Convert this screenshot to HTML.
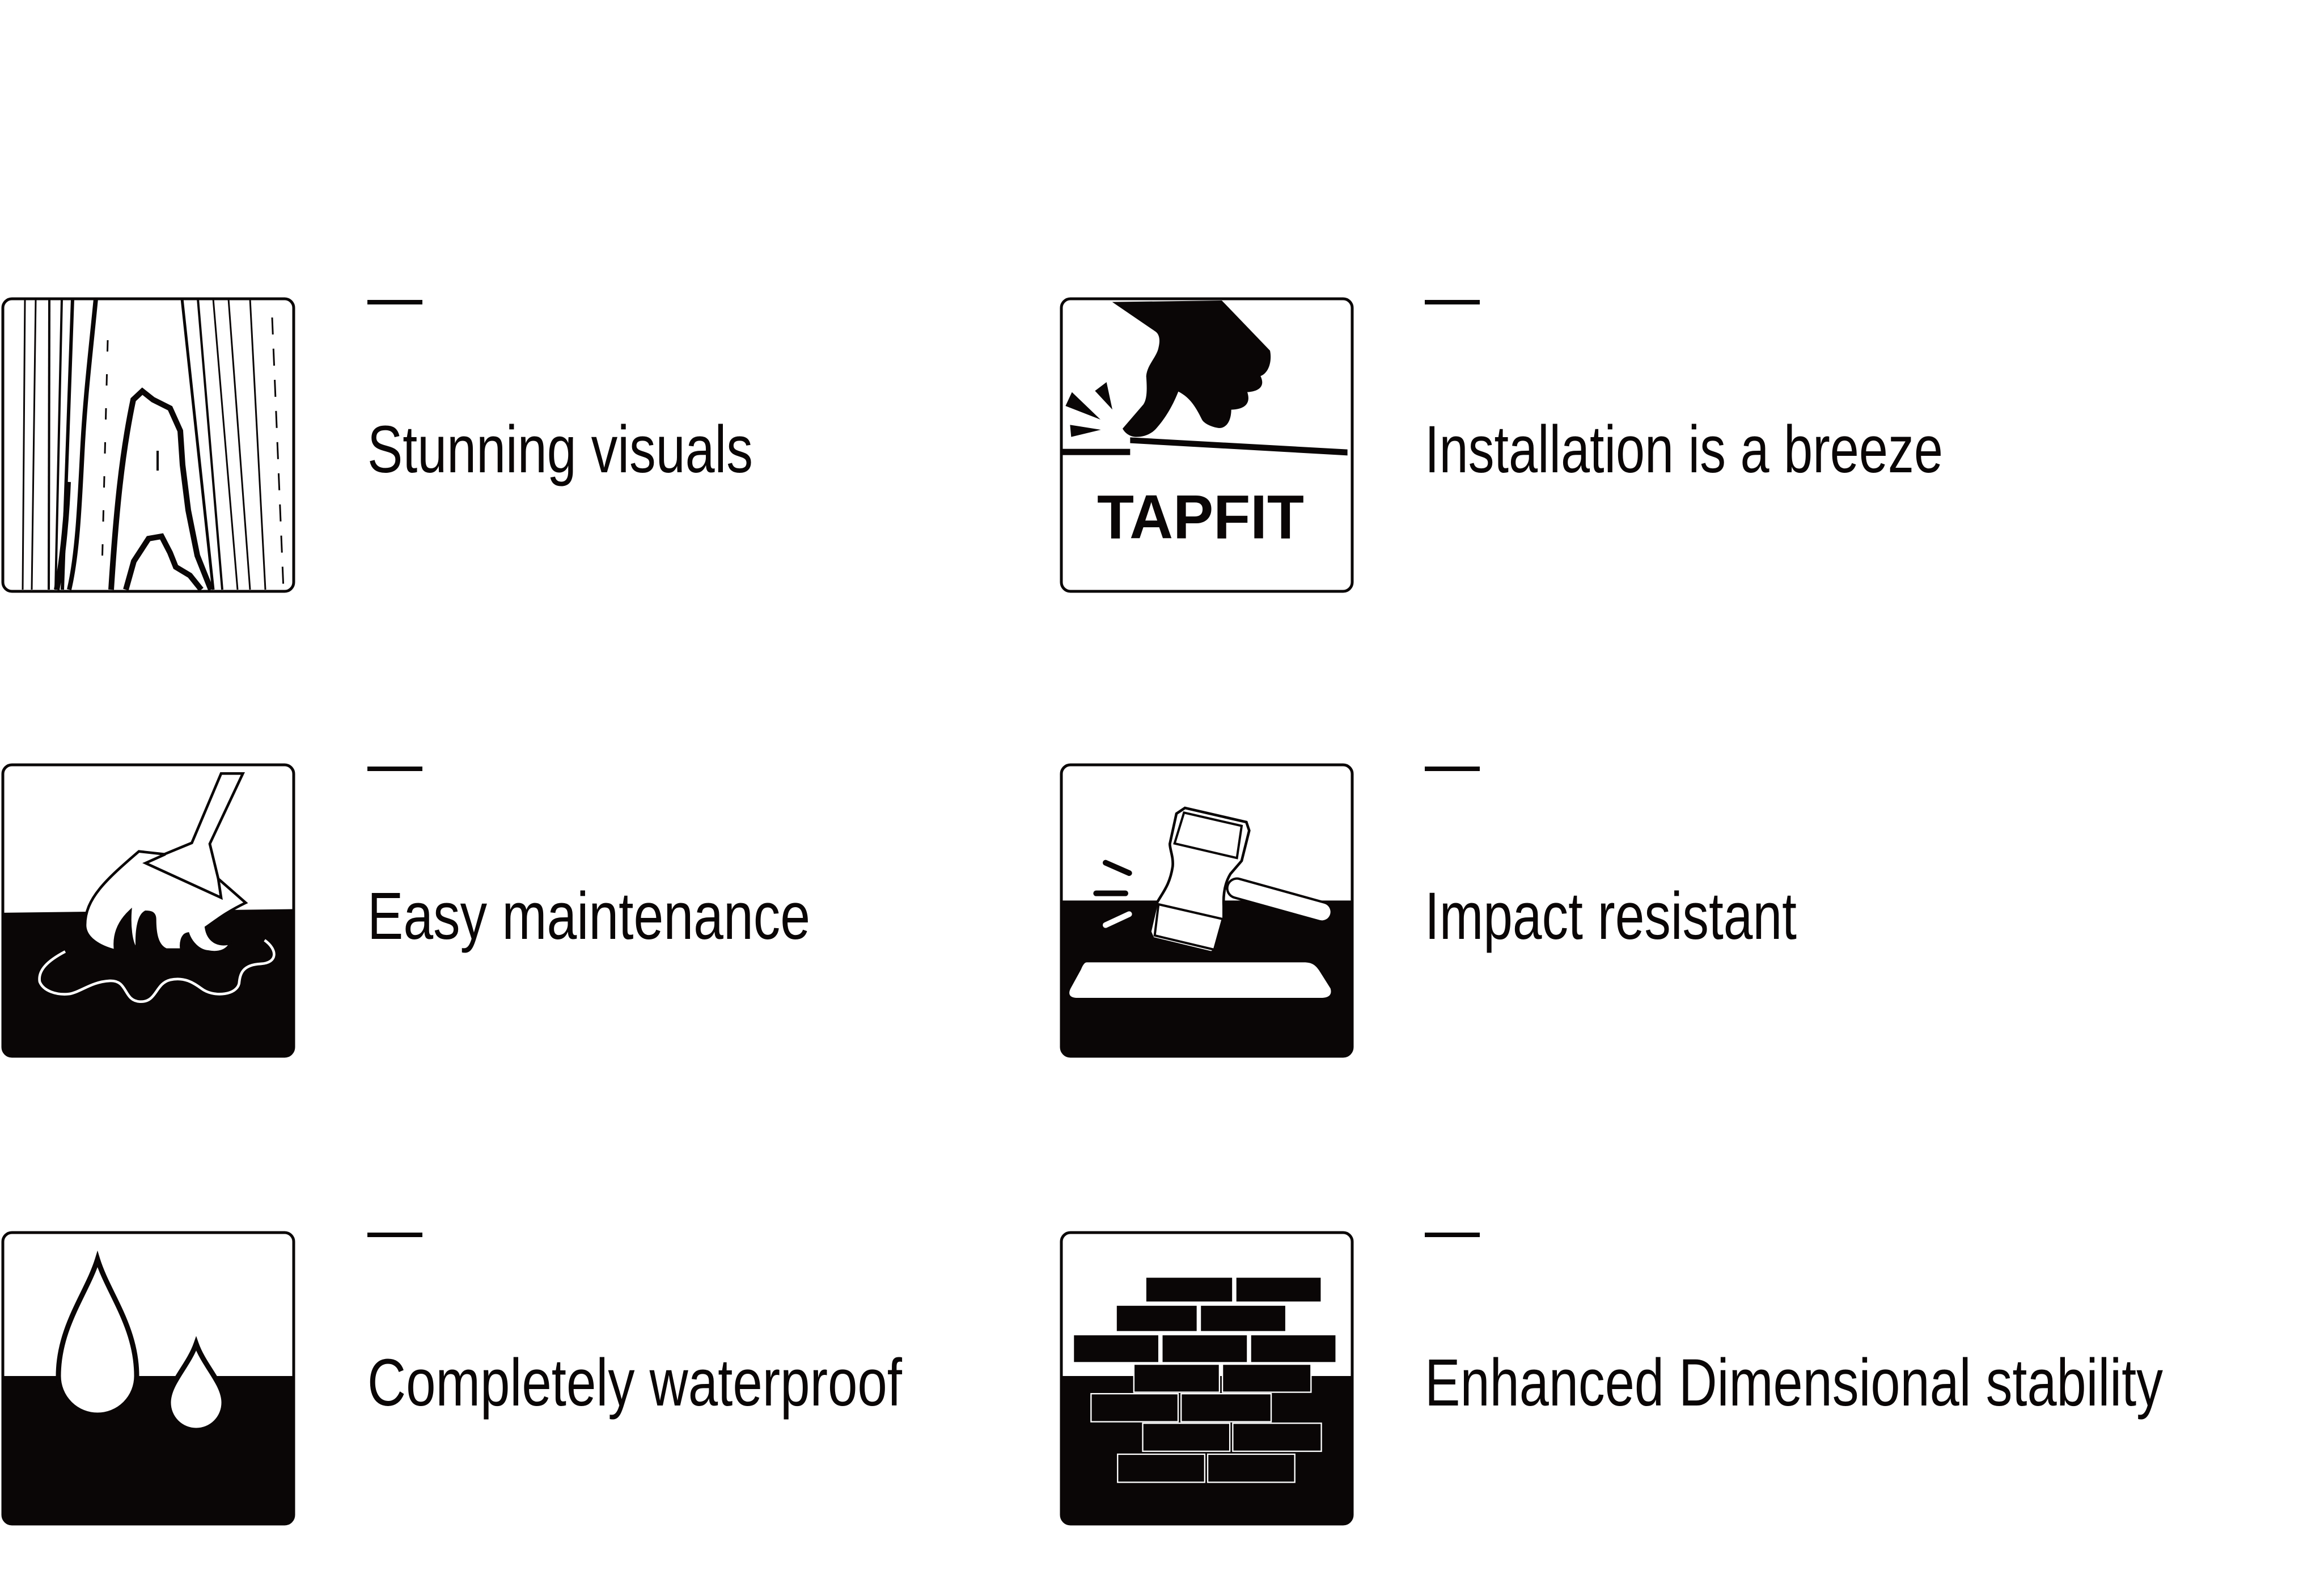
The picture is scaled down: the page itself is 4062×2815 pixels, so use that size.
<!DOCTYPE html>
<html><head><meta charset="utf-8"><style>
html,body{margin:0;padding:0;background:#fff;}
svg{display:block;}
text{font-family:"Liberation Sans",sans-serif;fill:#0a0606;}
</style></head><body>
<svg width="4062" height="2815" viewBox="0 0 4062 2815" xmlns="http://www.w3.org/2000/svg">
<defs>
<clipPath id="c1"><rect x="5" y="527" width="513" height="516" rx="16"/></clipPath>
<clipPath id="c3"><rect x="5" y="1349" width="513" height="514" rx="16"/></clipPath>
<clipPath id="c4"><rect x="1872" y="1349" width="513" height="514" rx="16"/></clipPath>
<clipPath id="c5"><rect x="5" y="2174" width="513" height="514" rx="16"/></clipPath>
<clipPath id="c6"><rect x="1872" y="2174" width="513" height="514" rx="16"/></clipPath>
</defs>
<rect width="4062" height="2815" fill="#fff"/>

<g fill="#0a0606">
<rect x="648" y="529" width="97" height="8"/>
<rect x="2513" y="529" width="97" height="8"/>
<rect x="648" y="1352" width="97" height="8"/>
<rect x="2513" y="1352" width="97" height="8"/>
<rect x="648" y="2174" width="97" height="8"/>
<rect x="2513" y="2174" width="97" height="8"/>
</g>

<text x="648" y="833" font-size="118" textLength="680" lengthAdjust="spacingAndGlyphs">Stunning visuals</text>
<text x="2513" y="833" font-size="118" textLength="914" lengthAdjust="spacingAndGlyphs">Installation is a breeze</text>
<text x="648" y="1656" font-size="118" textLength="781" lengthAdjust="spacingAndGlyphs">Easy maintenance</text>
<text x="2513" y="1656" font-size="118" textLength="656" lengthAdjust="spacingAndGlyphs">Impact resistant</text>
<text x="648" y="2479" font-size="118" textLength="943" lengthAdjust="spacingAndGlyphs">Completely waterproof</text>
<text x="2513" y="2479" font-size="118" textLength="1302" lengthAdjust="spacingAndGlyphs">Enhanced Dimensional stability</text>

<g clip-path="url(#c1)" stroke="#0a0606" fill="none">
<line x1="44" y1="527" x2="40" y2="1040" stroke-width="3"/>
<line x1="63" y1="527" x2="56" y2="1040" stroke-width="3"/>
<line x1="87" y1="527" x2="86" y2="1040" stroke-width="4"/>
<line x1="109" y1="527" x2="98" y2="1040" stroke-width="4"/>
<line x1="128" y1="527" x2="110" y2="1040" stroke-width="6"/>
<path d="M169 527 C160 620 150 700 145 800 C140 900 136 980 122 1040" stroke-width="8"/>
<path d="M100 1040 C112 980 118 900 120 850" stroke-width="10"/>
<line x1="321" y1="527" x2="376" y2="1040" stroke-width="5"/>
<line x1="349" y1="527" x2="392" y2="1040" stroke-width="4"/>
<line x1="376" y1="527" x2="419" y2="1040" stroke-width="3"/>
<line x1="403" y1="527" x2="441" y2="1040" stroke-width="3"/>
<line x1="441" y1="527" x2="468" y2="1040" stroke-width="3"/>
<line x1="480" y1="560" x2="500" y2="1040" stroke-width="3" stroke-dasharray="30 25"/>
<line x1="190" y1="600" x2="180" y2="1000" stroke-width="3" stroke-dasharray="20 40"/>
<path d="M196 1040 C205 900 215 800 235 705 L251 690 L270 705 L300 720 L318 760 L322 820 L332 900 L348 980 L372 1040" stroke-width="10"/>
<path d="M222 1040 L236 990 L262 950 L285 946 L300 975 L310 1000 L335 1015 L355 1040" stroke-width="10"/>
<line x1="278" y1="795" x2="278" y2="830" stroke-width="4"/>
</g>
<rect x="5" y="527" width="513" height="516" rx="16" fill="none" stroke="#0a0606" stroke-width="5"/>

<rect x="1872" y="527" width="513" height="516" rx="16" fill="none" stroke="#0a0606" stroke-width="5"/>
<g transform="translate(1870,520) scale(0.33333)" fill="#0a0606">
<path d="M275,38 L855,30 L1110,295 C1120,340 1110,410 1060,430 C1080,470 1070,510 990,515 C1005,560 995,605 905,608 C905,650 890,705 840,705 C800,700 760,680 750,660 C720,600 690,545 625,512 C590,600 550,660 510,705 C480,740 440,752 400,752 C370,750 345,735 330,708 L440,580 C460,550 460,500 455,430 C460,370 510,330 520,280 C530,240 525,210 505,195 Z"/>
<polygon points="62,515 28,588 213,660"/>
<polygon points="184,508 245,462 276,607"/>
<polygon points="52,688 58,752 215,714"/>
<rect x="0" y="815" width="370" height="33"/>
<polygon points="370,754 1520,818 1520,850 370,785"/>
<text x="195" y="1288" font-size="330" font-weight="bold" textLength="1095" lengthAdjust="spacingAndGlyphs">TAPFIT</text>
</g>

<g clip-path="url(#c3)">
<g transform="translate(0,1345) scale(0.33333)">
<polygon points="0,795 1600,775 1600,1600 0,1600" fill="#0a0606"/>
<path d="M735,470 L870,485 L1015,425 L1170,58 L1285,58 L1110,430 L1155,615 L1300,742 C1200,790 1150,830 1090,872 C1100,940 1150,975 1220,955 C1200,1000 1150,1010 1100,1000 C1050,995 1010,950 995,905 C960,910 955,960 960,990 L880,990 C830,970 820,900 820,830 C820,790 790,790 770,790 C730,810 720,900 725,990 C690,960 685,850 690,785 C620,850 600,920 610,995 C530,975 450,930 450,860 C450,720 560,620 735,470 Z" fill="#fff" stroke="#0a0606" stroke-width="14"/>
<polyline points="875,485 770,532 1170,715 1155,615" fill="none" stroke="#0a0606" stroke-width="14"/>
<path d="M345,1000 C250,1050 200,1100 210,1160 C230,1210 300,1230 360,1225 C420,1220 480,1160 580,1155 C680,1150 650,1260 740,1265 C830,1270 820,1170 900,1150 C990,1130 1040,1180 1080,1205 C1140,1240 1250,1230 1265,1170 C1270,1120 1280,1070 1380,1065 C1470,1060 1470,990 1400,940" fill="none" stroke="#fff" stroke-width="14"/>
</g>
</g>
<rect x="5" y="1349" width="513" height="514" rx="16" fill="none" stroke="#0a0606" stroke-width="5"/>

<g clip-path="url(#c4)">
<g transform="translate(1870,1345) scale(0.33333)">
<rect x="0" y="730" width="1600" height="900" fill="#0a0606"/>
<path d="M140,1057 L1290,1057 C1330,1057 1350,1070 1370,1100 L1430,1195 C1440,1230 1420,1245 1380,1245 L90,1245 C50,1245 40,1225 55,1195 L110,1095 C120,1070 130,1057 140,1057 Z" fill="#fff"/>
<line x1="935" y1="665" x2="1385" y2="790" stroke="#0a0606" stroke-width="115" stroke-linecap="round"/>
<line x1="935" y1="665" x2="1385" y2="790" stroke="#fff" stroke-width="90" stroke-linecap="round"/>
<path d="M660,240 L985,315 L1000,360 L960,520 L900,590 C870,640 862,700 865,760 L865,830 L830,985 L800,1005 L490,930 L475,895 L510,745 C540,690 580,650 595,550 C600,500 580,460 580,430 L615,270 Z" fill="#fff" stroke="#0a0606" stroke-width="14"/>
<path d="M655,265 L960,335 L935,505 L605,428 Z" fill="none" stroke="#0a0606" stroke-width="12"/>
<path d="M520,750 L860,828 L815,990 L500,915 Z" fill="none" stroke="#0a0606" stroke-width="12"/>
<line x1="240" y1="530" x2="365" y2="585" stroke="#0a0606" stroke-width="30" stroke-linecap="round"/>
<line x1="190" y1="692" x2="345" y2="692" stroke="#0a0606" stroke-width="30" stroke-linecap="round"/>
<line x1="240" y1="860" x2="365" y2="802" stroke="#fff" stroke-width="30" stroke-linecap="round"/>
</g>
</g>
<rect x="1872" y="1349" width="513" height="514" rx="16" fill="none" stroke="#0a0606" stroke-width="5"/>

<g clip-path="url(#c5)">
<rect x="0" y="2427" width="600" height="300" fill="#0a0606"/>
<path d="M172,2221 C190,2280 241,2340 241,2427 A69,69 0 0 1 103,2427 C103,2340 154,2280 172,2221 Z" fill="#fff" stroke="#0a0606" stroke-width="9"/>
<path d="M346,2370 C360,2410 395,2440 395,2474 A49,49 0 0 1 297,2474 C297,2440 332,2410 346,2370 Z" fill="#fff" stroke="#0a0606" stroke-width="9"/>
</g>
<rect x="5" y="2174" width="513" height="514" rx="16" fill="none" stroke="#0a0606" stroke-width="5"/>

<g clip-path="url(#c6)">
<rect x="1800" y="2427" width="700" height="300" fill="#0a0606"/>
<g transform="scale(2.604)" fill="#0a0606" stroke="#fff" stroke-width="0.9">
<rect x="776" y="865" width="59" height="17"/><rect x="837" y="865" width="58" height="17"/>
<rect x="756" y="884" width="55" height="18"/><rect x="813" y="884" width="58" height="18"/>
<rect x="727" y="904" width="58" height="19"/><rect x="787" y="904" width="58" height="19"/><rect x="847" y="904" width="58" height="19"/>
<rect x="768" y="924" width="58" height="19"/><rect x="828" y="924" width="60" height="19"/>
<rect x="739" y="944" width="59" height="19"/><rect x="800" y="944" width="61" height="19"/>
<rect x="774" y="964" width="59" height="19"/><rect x="835" y="964" width="60" height="19"/>
<rect x="757" y="985" width="59" height="19"/><rect x="818" y="985" width="59" height="19"/>
</g>
</g>
<rect x="1872" y="2174" width="513" height="514" rx="16" fill="none" stroke="#0a0606" stroke-width="5"/>
</svg>
</body></html>
